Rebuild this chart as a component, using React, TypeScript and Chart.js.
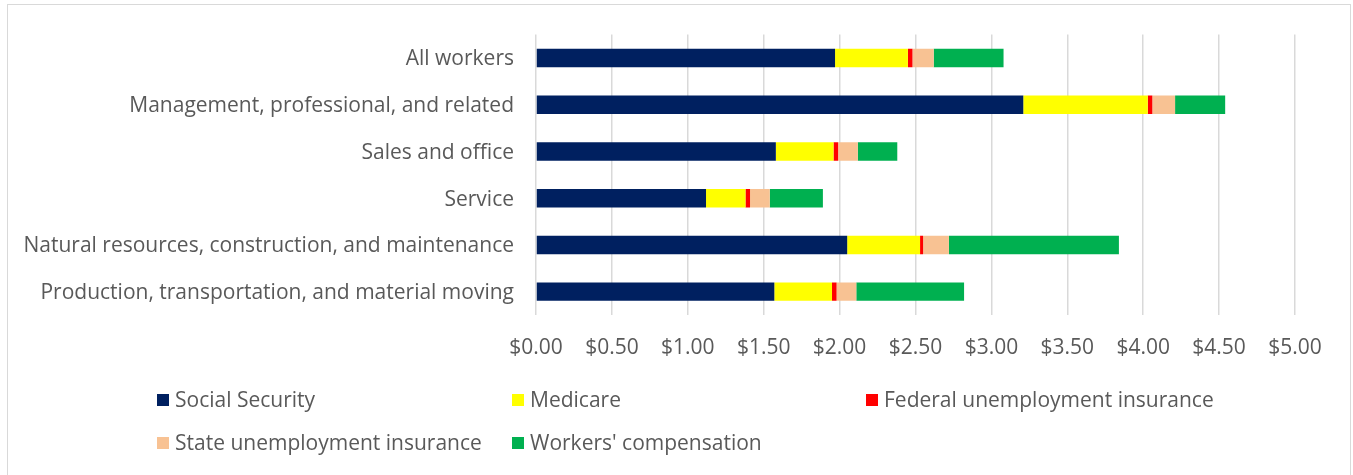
import React, { useEffect, useRef } from "react";
import { Chart, registerables } from "chart.js";

Chart.register(...registerables);

const categories = [
  "All workers",
  "Management, professional, and related",
  "Sales and office",
  "Service",
  "Natural resources, construction, and maintenance",
  "Production, transportation, and material moving",
];
const socialSecurity = [1.97, 3.21, 1.58, 1.12, 2.05, 1.57];
const medicare = [0.48, 0.82, 0.38, 0.26, 0.48, 0.38];
const federalUnemployment = [0.03, 0.03, 0.03, 0.03, 0.02, 0.03];
const stateUnemployment = [0.14, 0.15, 0.13, 0.13, 0.17, 0.13];
const workersComp = [0.46, 0.33, 0.26, 0.35, 1.12, 0.71];
const seriesNames = [
  "Social Security",
  "Medicare",
  "Federal unemployment insurance",
  "State unemployment insurance",
  "Workers' compensation",
];
const seriesColors = ["#002060", "#FFFF00", "#FF0000", "#F8C293", "#00B050"];

const FONT = "'Open Sans'";
const FONT_SIZE = 21;
const TEXT_COLOR = "#595959";

const legendPlugin = {
  id: "customLegend",
  afterDraw(chart: any) {
    const ctx = chart.ctx;
    const cols = [157, 512, 866];
    const rows = [400, 443];
    ctx.save();
    ctx.font = `${FONT_SIZE}px ${FONT}`;
    ctx.textBaseline = "middle";
    ctx.textAlign = "left";
    chart.data.datasets.forEach((ds: any, i: number) => {
      const x = cols[i % 3];
      const y = rows[Math.floor(i / 3)];
      ctx.fillStyle = ds.backgroundColor;
      ctx.fillRect(x, y - 6, 12, 12);
      ctx.fillStyle = TEXT_COLOR;
      ctx.fillText(ds.label, x + 18, y + 1.5);
    });
    ctx.restore();
  },
};

export default function App() {
  const ref = useRef<HTMLCanvasElement>(null);
  useEffect(() => {
    if (!ref.current) return;
    const values = [socialSecurity, medicare, federalUnemployment, stateUnemployment, workersComp];
    const chart = new Chart(ref.current, {
      type: "bar",
      data: {
        labels: categories,
        datasets: seriesNames.map((name, i) => ({
          label: name,
          data: values[i],
          backgroundColor: seriesColors[i],
          borderWidth: 0,
          barPercentage: 0.395,
          categoryPercentage: 1,
        })),
      },
      options: {
        indexAxis: "y",
        responsive: false,
        animation: false,
        layout: { padding: { left: 0, top: 34, right: 58, bottom: 100 } },
        plugins: { legend: { display: false }, tooltip: { enabled: false } },
        scales: {
          x: {
            stacked: true,
            min: 0,
            max: 5,
            ticks: {
              stepSize: 0.5,
              padding: 20.5,
              color: TEXT_COLOR,
              font: { family: FONT, size: FONT_SIZE },
              callback: (v: any) => "$" + Number(v).toFixed(2),
            },
            grid: { color: "#d9d9d9", lineWidth: 1.5, drawTicks: false },
            border: { display: false },
            afterFit: (s: any) => {
              s.height = 60;
            },
          },
          y: {
            stacked: true,
            ticks: {
              padding: 22,
              labelOffset: 1.5,
              color: TEXT_COLOR,
              font: { family: FONT, size: FONT_SIZE },
            },
            grid: { display: false, drawTicks: false },
            border: { display: false },
            afterFit: (s: any) => {
              s.width = 536;
            },
          },
        },
      },
      plugins: [legendPlugin],
    });
    return () => chart.destroy();
  }, []);
  return (
    <div style={{ position: "absolute", left: 0, top: 0, width: 1353, height: 475, overflow: "hidden" }}>
      <div
        style={{
          position: "absolute",
          left: 7,
          top: 4,
          width: 1344,
          height: 480,
          border: "1.5px solid #d9d9d9",
          boxSizing: "border-box",
        }}
      />
      <canvas ref={ref} width={1353} height={475} style={{ position: "absolute", left: 0, top: 0 }} />
    </div>
  );
}
